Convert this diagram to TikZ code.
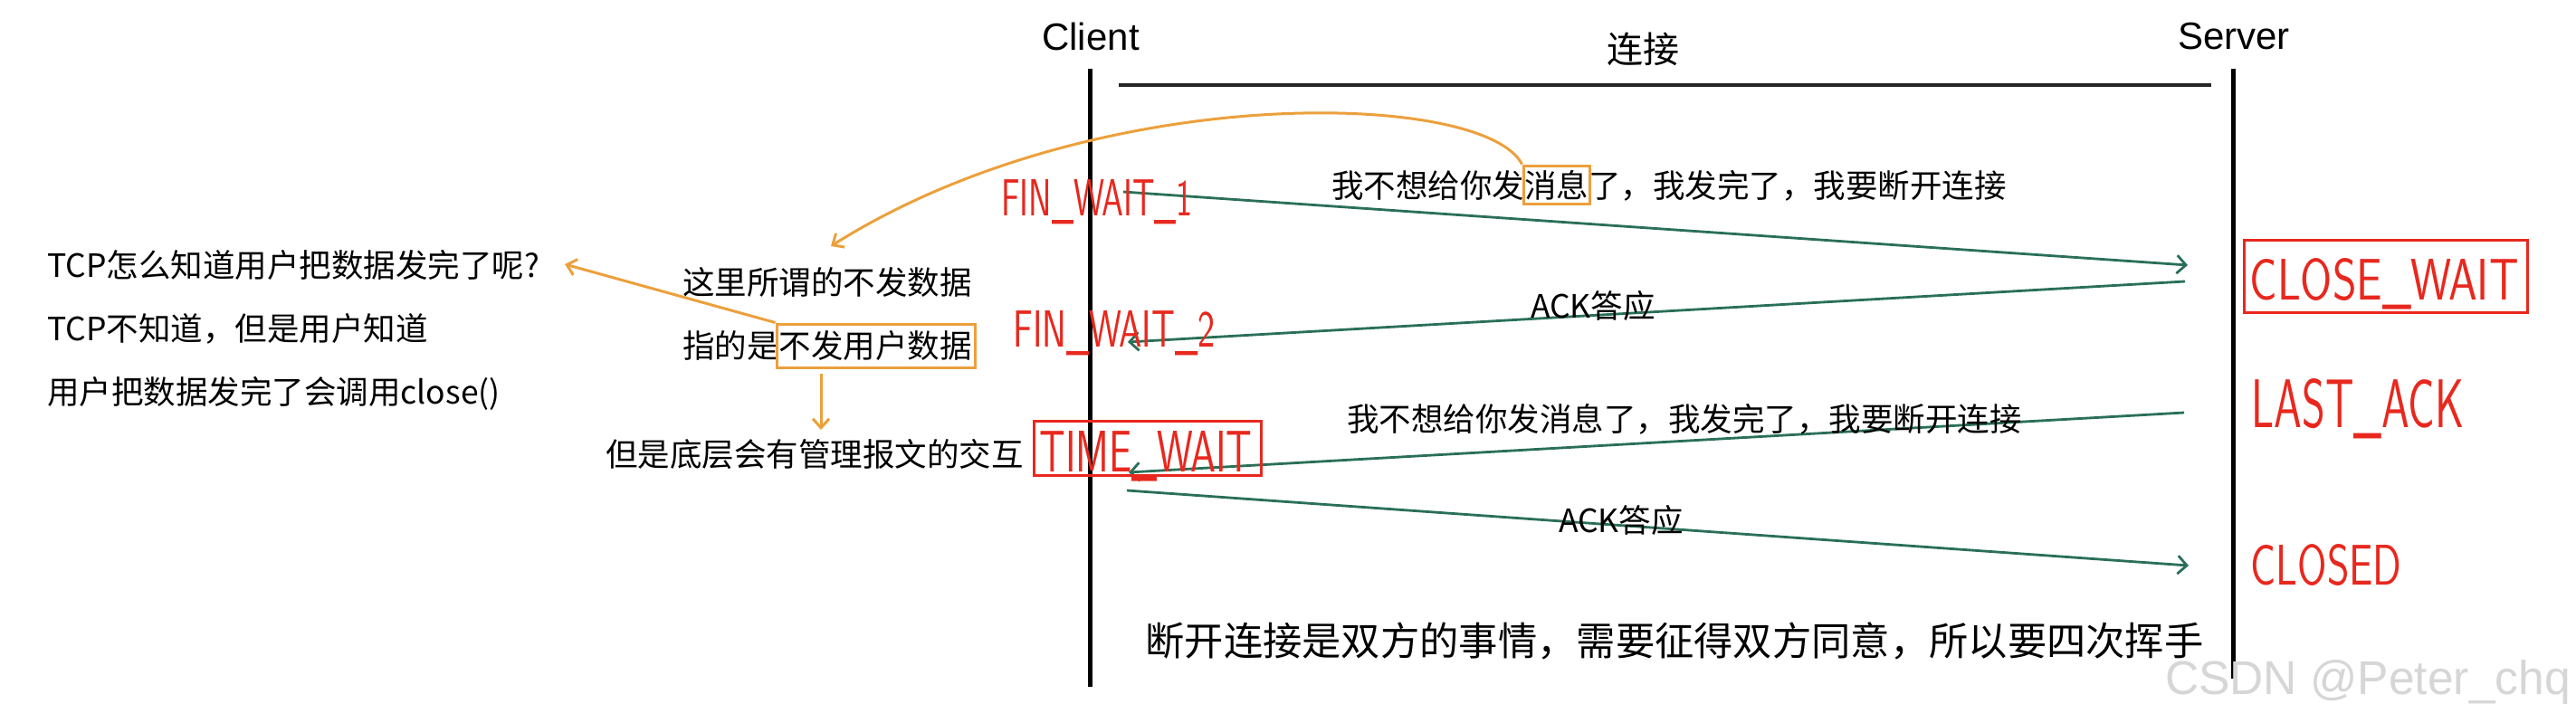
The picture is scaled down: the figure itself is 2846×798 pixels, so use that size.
\documentclass[tikz,border=0pt]{standalone}
\usepackage{fontspec}
\usepackage{graphicx}
\setmainfont{Noto Sans CJK SC}
\newfontfamily\latinsans{Liberation Sans}
\usetikzlibrary{arrows.meta}
\definecolor{gline}{RGB}{42,112,86}
\definecolor{oline}{RGB}{236,160,60}
\definecolor{rline}{RGB}{232,40,30}
\definecolor{wmark}{RGB}{214,214,214}
\tikzset{
  txt/.style={inner sep=0pt, font=\fontsize{35.5}{40}\selectfont},
  ltxt/.style={txt, anchor=west},
  lat/.style={inner sep=0pt, font=\latinsans\fontsize{42}{46}\selectfont},
  bigtxt/.style={inner sep=0pt, font=\fontsize{43.3}{50}\selectfont},
  rtxt/.style={inner sep=0pt, anchor=base, text=rline, font=\sffamily\fontsize{40}{44}\selectfont},
  life/.style={line width=5pt, black},
  connline/.style={line width=3.5pt, black!85},
  msg/.style={line width=2.8pt, gline, -{Straight Barb[length=10pt,width=20pt]}},
  oarrow/.style={line width=3pt, oline, -{Straight Barb[length=10pt,width=18pt]}},
  obox/.style={draw=oline, line width=3pt, inner sep=0pt},
  rbox/.style={draw=rline, line width=3pt, inner sep=0pt},
}
\begin{document}
\begin{tikzpicture}[x=1pt,y=-1pt]
\useasboundingbox (0,0) rectangle (2846,798);
\fill[white] (0,0) rectangle (2846,798);

% lifelines
\node[lat] (client) at (1205,40) {Client};
\node[lat] (server) at (2468,40) {Server};
\coordinate (cltop) at (1204,76);
\coordinate (clbot) at (1204,759);
\coordinate (svtop) at (2467,76);
\coordinate (svbot) at (2467,750);
\draw[life] (cltop) -- (clbot);
\draw[life] (svtop) -- (svbot);

% connection
\node[inner sep=0pt, font=\fontsize{40}{44}\selectfont] (lianjie) at (1815,54) {连接};
\coordinate (connL) at (1236,94);
\coordinate (connR) at (2443,94);
\draw[connline] (connL) -- (connR);

% messages
\coordinate (c1) at (1241,212);
\coordinate (s1) at (2417,293);
\draw[msg] (c1) -- (s1);
\node[txt] (m1) at (1844,205) {我不想给你发消息了，我发完了，我要断开连接};

\coordinate (s2) at (2414,311);
\coordinate (c2) at (1246,378);
\draw[msg] (s2) -- (c2);
\node[txt] (m2) at (1760,338) {ACK答应};

\coordinate (s3) at (2413,456);
\coordinate (c3) at (1247,522);
\draw[msg] (s3) -- (c3);
\node[txt] (m3) at (1861,463) {我不想给你发消息了，我发完了，我要断开连接};

\coordinate (c4) at (1245,542);
\coordinate (s4) at (2418,625);
\draw[msg] (c4) -- (s4);
\node[txt] (m4) at (1791,575) {ACK答应};

% states
\node[rtxt] (fw1) at (1212,238) {\resizebox{211pt}{40pt}{FIN\_WAIT\_1}};
\node[rtxt] (fw2) at (1231,383) {\resizebox{223pt}{40pt}{FIN\_WAIT\_2}};
\node[rtxt] (tw) at (1266,521) {\resizebox{235pt}{45pt}{TIME\_WAIT}};
\node[rbox, minimum width=251pt, minimum height=60pt] (twbox) at (1267.5,495) {};
\node[rtxt] (cw) at (2634,331) {\resizebox{297pt}{46pt}{CLOSE\_WAIT}};
\node[rbox, minimum width=313pt, minimum height=80pt] (cwbox) at (2635.5,305) {};
\node[rtxt] (la) at (2605,472) {\resizebox{235pt}{54pt}{LAST\_ACK}};
\node[rtxt] (cl) at (2570,646) {\resizebox{167pt}{45pt}{CLOSED}};

% left notes
\node[ltxt] (q1) at (52,293) {TCP怎么知道用户把数据发完了呢?};
\node[ltxt] (q2) at (52,363) {TCP不知道，但是用户知道};
\node[ltxt] (q3) at (52,435) {用户把数据发完了会调用close()};
\node[ltxt] (n1) at (754,312) {这里所谓的不发数据};
\node[ltxt] (n2) at (754,382) {指的是不发用户数据};
\node[ltxt] (n3) at (669,502) {但是底层会有管理报文的交互};

% orange annotations
\node[obox, minimum width=73pt, minimum height=42pt] (xibox) at (1719.5,204) {};
\node[obox, minimum width=219pt, minimum height=48pt] (bfbox) at (967.5,382) {};
\coordinate (curveend) at (918,272);
\draw[oarrow] (xibox.north west) .. controls (1640,100) and (1210,88) .. (curveend);
\coordinate (qend) at (624,292);
\draw[oarrow] (bfbox.north west) -- (qend);
\coordinate (dtop) at (907,413);
\coordinate (dbot) at (907,475);
\draw[oarrow] (dtop) -- (dbot);

% conclusion
\node[bigtxt] (concl) at (1850,708) {断开连接是双方的事情，需要征得双方同意，所以要四次挥手};

% watermark
\node[inner sep=0pt, anchor=base, text=wmark, font=\latinsans\fontsize{48}{52}\selectfont] (wm) at (2616,767) {\resizebox{448pt}{38pt}{CSDN @Peter\_chq}};
\end{tikzpicture}
\end{document}
